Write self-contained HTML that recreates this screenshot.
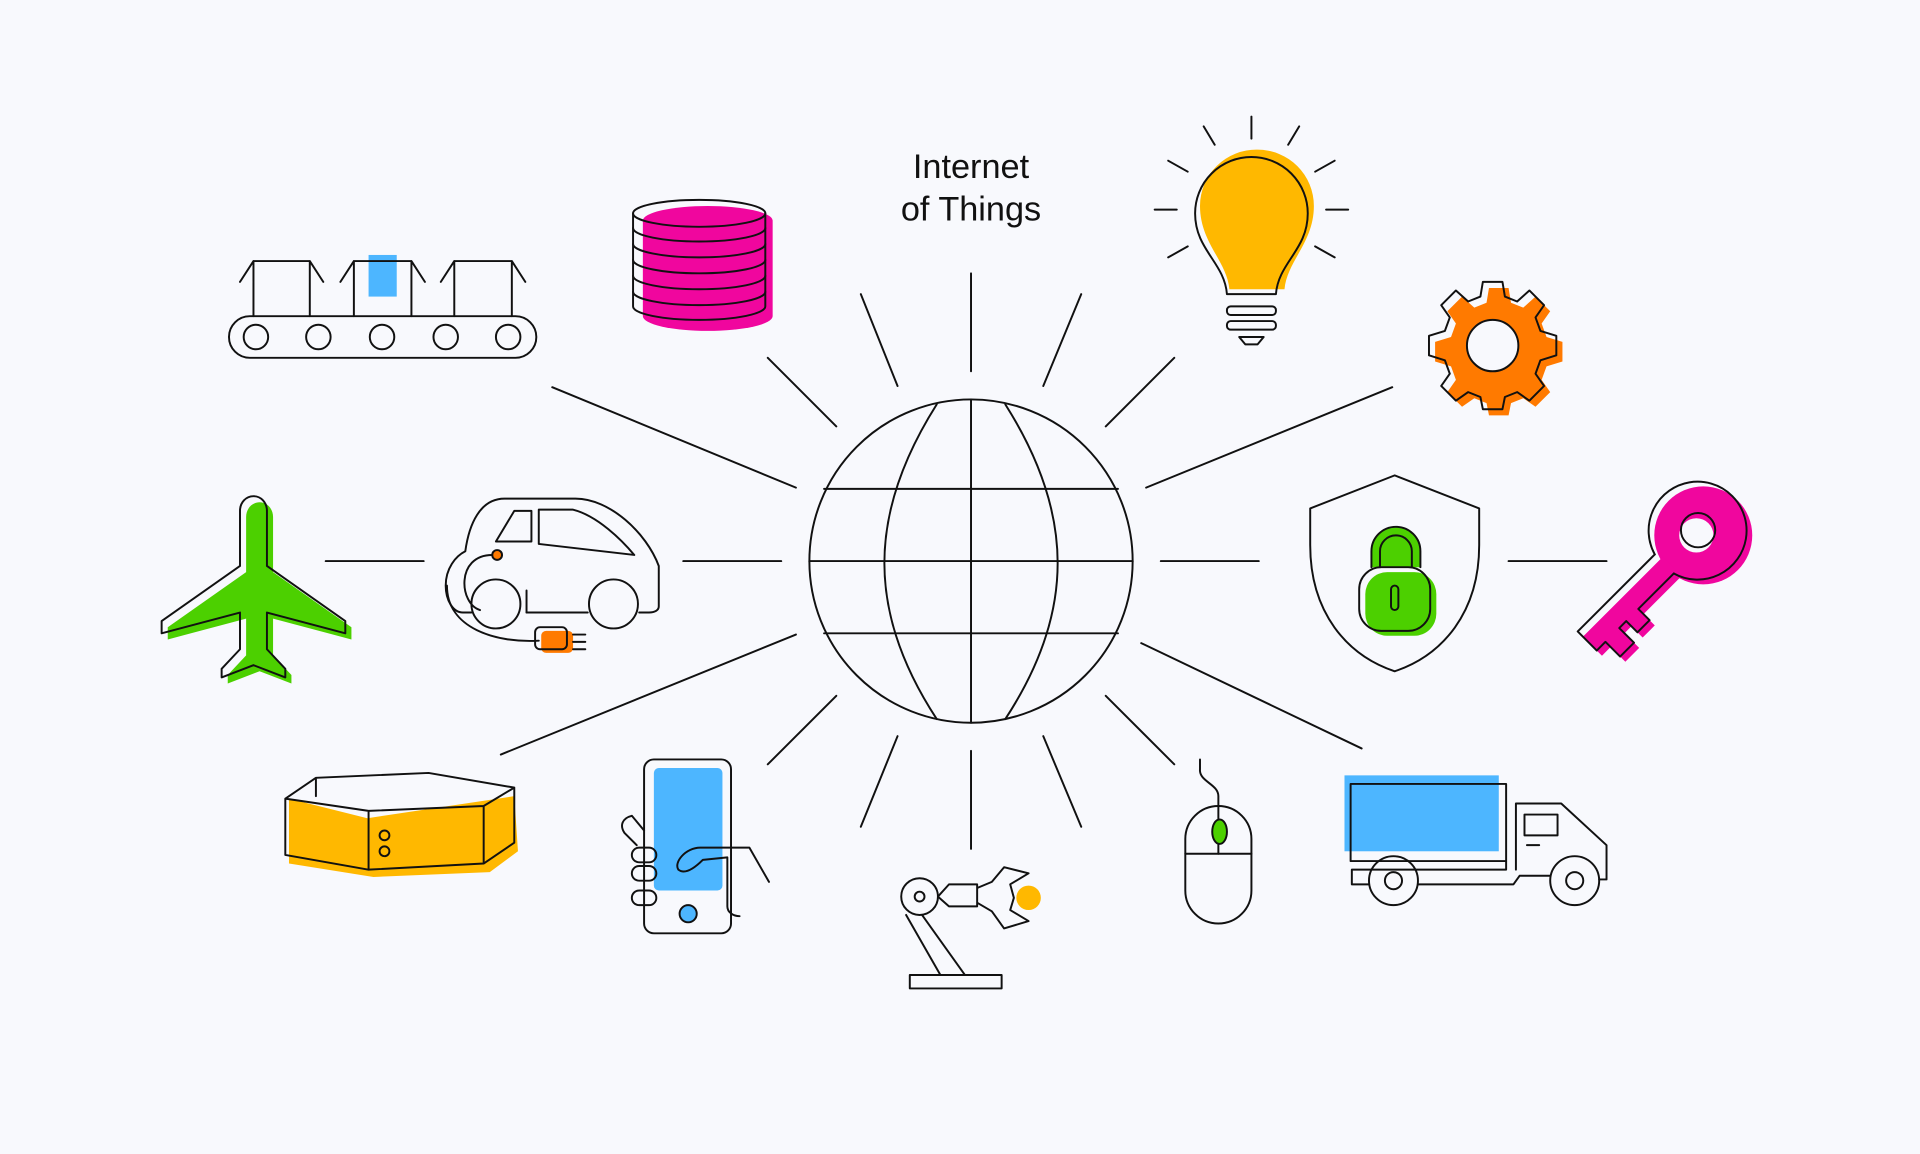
<!DOCTYPE html>
<html><head><meta charset="utf-8"><style>
html,body{margin:0;padding:0;background:#f8f9fd;}
svg{display:block;}
text{font-family:"Liberation Sans",sans-serif;}
</style></head><body>
<svg width="1920" height="1154" viewBox="0 0 1568 942" xmlns="http://www.w3.org/2000/svg">
<rect width="1568" height="942" fill="#f8f9fd"/>
<g stroke="#111" stroke-width="1.6" fill="none" stroke-linecap="round" stroke-linejoin="round">
<line x1="793" y1="223" x2="793" y2="303"/>
<line x1="703" y1="240" x2="733" y2="315"/>
<line x1="883" y1="240" x2="852" y2="315"/>
<line x1="627" y1="292" x2="683" y2="348"/>
<line x1="959" y1="292" x2="903" y2="348"/>
<line x1="451" y1="316" x2="650" y2="398"/>
<line x1="1137" y1="316" x2="936" y2="398"/>
<line x1="558" y1="458" x2="638" y2="458"/>
<line x1="266" y1="458" x2="346" y2="458"/>
<line x1="948" y1="458" x2="1028" y2="458"/>
<line x1="1232" y1="458" x2="1312" y2="458"/>
<line x1="650" y1="518" x2="409" y2="616"/>
<line x1="932" y1="525" x2="1112" y2="611"/>
<line x1="627" y1="624" x2="683" y2="568"/>
<line x1="959" y1="624" x2="903" y2="568"/>
<line x1="703" y1="675" x2="733" y2="601"/>
<line x1="883" y1="675" x2="852" y2="601"/>
<line x1="793" y1="613" x2="793" y2="693"/>
<circle cx="793" cy="458" r="132"/>
<line x1="793" y1="326" x2="793" y2="590"/>
<line x1="661" y1="458" x2="925" y2="458"/>
<line x1="673" y1="399" x2="913" y2="399"/>
<line x1="673" y1="517" x2="913" y2="517"/>
<path d="M765,330 C708,420 708,500 765,587"/>
<path d="M821,330 C878,420 878,500 821,587"/>

<rect x="187" y="258" width="251" height="34" rx="17"/>
<circle cx="209" cy="275" r="10"/><circle cx="260" cy="275" r="10"/><circle cx="312" cy="275" r="10"/><circle cx="364" cy="275" r="10"/><circle cx="415" cy="275" r="10"/>
<rect x="301" y="208" width="23" height="34" fill="#4db6ff" stroke="none"/>
<path d="M207,258 V213 H253 V258 M207,213 L196,230 M253,213 L264,230"/>
<path d="M289,258 V213 H336 V258 M289,213 L278,230 M336,213 L347,230"/>
<path d="M371,258 V213 H418 V258 M371,213 L360,230 M418,213 L429,230"/>

<path d="M525,180 a53,12 0 0 1 106,0 V258 a53,12 0 0 1 -106,0Z" fill="#f0069e" stroke="none"/>
<ellipse cx="571" cy="174" rx="54" ry="11"/>
<path d="M517,174 V186 a54,11 0 0 0 108,0 V174"/>
<path d="M517,186 V199 a54,11 0 0 0 108,0 V186"/>
<path d="M517,199 V212 a54,11 0 0 0 108,0 V199"/>
<path d="M517,212 V225 a54,11 0 0 0 108,0 V212"/>
<path d="M517,225 V238 a54,11 0 0 0 108,0 V225"/>
<path d="M517,238 V250 a54,11 0 0 0 108,0 V238"/>

<path d="M1027,122 a46,46 0 0 1 46,46 c0,30 -22,45 -24,68 H1004 c-2,-23 -24,-38 -24,-68 a46,46 0 0 1 47,-46z" fill="#ffb800" stroke="none"/>
<path d="M1022,128 a46,46 0 0 0 -46,46 c0,30 24,40 26,66 M1022,128 a46,46 0 0 1 46,46 c0,30 -24,40 -26,66 M1002,240 H1042"/>
<rect x="1002" y="250" width="40" height="7" rx="3"/><rect x="1002" y="262" width="40" height="7" rx="3"/>
<path d="M1012,275 H1032 L1027,281 H1017Z"/>
<line x1="1022" y1="95" x2="1022" y2="113"/><line x1="983" y1="103" x2="992" y2="118"/><line x1="1061" y1="103" x2="1052" y2="118"/>
<line x1="954" y1="131" x2="970" y2="140"/><line x1="1090" y1="131" x2="1074" y2="140"/>
<line x1="943" y1="171" x2="961" y2="171"/><line x1="1083" y1="171" x2="1101" y2="171"/>
<line x1="954" y1="210" x2="970" y2="201"/><line x1="1090" y1="210" x2="1074" y2="201"/>

<g transform="translate(1224,287)">
<path d="M-8,-52 H8 L10,-40 L20,-36 L30,-45 L42,-33 L35,-23 L39,-12 L52,-8 V8 L39,12 L35,23 L42,33 L30,45 L20,38 L10,42 L8,52 H-8 L-10,42 L-20,38 L-30,45 L-42,33 L-35,23 L-39,12 L-52,8 V-8 L-39,-12 L-35,-23 L-42,-33 L-30,-45 L-20,-36 L-10,-40Z" fill="#ff7a00" stroke="none"/>
<circle cx="-5" cy="-5" r="21" fill="#f8f9fd" stroke="#111"/>
<path transform="translate(-5,-5)" d="M-8,-52 H8 L10,-40 L20,-36 L30,-45 L42,-33 L35,-23 L39,-12 L52,-8 V8 L39,12 L35,23 L42,33 L30,45 L20,38 L10,42 L8,52 H-8 L-10,42 L-20,38 L-30,45 L-42,33 L-35,23 L-39,12 L-52,8 V-8 L-39,-12 L-35,-23 L-42,-33 L-30,-45 L-20,-36 L-10,-40Z"/>
</g>

<path transform="translate(5,5)" d="M207,405 c-6,0 -11,5 -11,12 L196,462 L132,507 L132,517 L196,500 L196,530 L181,546 L181,553 L207,543 L233,553 L233,546 L218,530 L218,500 L282,517 L282,507 L218,462 L218,417 c0,-7 -5,-12 -11,-12z" fill="#4cd000" stroke="none"/>
<path d="M207,405 c-6,0 -11,5 -11,12 L196,462 L132,507 L132,517 L196,500 L196,530 L181,546 L181,553 L207,543 L233,553 L233,546 L218,530 L218,500 L282,517 L282,507 L218,462 L218,417 c0,-7 -5,-12 -11,-12z"/>

<rect x="442" y="515" width="26" height="18" rx="4" fill="#ff7a00" stroke="none"/>
<path d="M385,500 H378 c-8,0 -14,-10 -14,-22 c0,-14 8,-24 16,-28 c3,-22 12,-43 32,-43 H470 c28,0 58,28 68,55 V495 c0,3 -3,5 -8,5 H522 M480,500 H430"/>
<circle cx="405" cy="493" r="20"/><circle cx="501" cy="493" r="20"/>
<path d="M405,442 L420,417 H434 V442Z M440,416 H468 c20,5 40,25 50,37 L440,444Z"/>
<circle cx="406" cy="453" r="4" fill="#ff7a00"/>
<path d="M402,453 c-30,0 -27,40 -10,45 M430,500 V482 M365,478 c0,35 40,47 75,45 M468,518 H478 M468,524 H478 M468,530 H478"/>
<rect x="437" y="512" width="26" height="18" rx="4"/>

<path d="M1139,388 L1070,415 L1070,445 c0,55 30,90 69,103 c39,-13 69,-48 69,-103 L1208,415z"/>
<rect x="1115" y="467" width="58" height="52" rx="18" fill="#4cd000" stroke="none"/>
<path d="M1120,463 V450 a20,20 0 0 1 40,0 V463 M1127,463 V450 a13,13 0 0 1 26,0 V463" fill="#4cd000"/>
<rect x="1110" y="463" width="58" height="52" rx="18"/>
<rect x="1136" y="478" width="6" height="20" rx="3"/>

<!-- key -->
<g transform="translate(1391,437) rotate(45)">
<g fill="#f0069e" stroke="none">
<circle cx="0" cy="0" r="40"/>
<path d="M-11,36 V128 H11 V118 H28 V102 H11 V94 H24 V80 H11 V36Z"/>
</g>
<circle cx="-4" cy="4" r="14" fill="#f8f9fd" stroke="none"/>
<g transform="translate(-6,0)">
<path d="M-11,39 A40,40 0 1 1 11,39"/>
<path d="M-11,39 V128 H11 V118 H28 V102 H11 V94 H24 V80 H11 V39"/>
<circle cx="0" cy="0" r="14"/>
</g>
</g>

<path d="M236,652 L300,668 L420,650 L423,695 L400,712 L305,716 L236,705Z" fill="#ffb800" stroke="none"/>
<path d="M233,652 L258,635 L350,631 L420,643 L395,658 L301,662Z M233,652 V698 L301,710 L395,705 L420,688 V643 M301,662 V710 M395,658 V705 M258,635 V650"/>
<circle cx="314" cy="682" r="4"/><circle cx="314" cy="695" r="4"/>

<rect x="534" y="627" width="56" height="100" rx="4" fill="#4db6ff" stroke="none"/>
<rect x="526" y="620" width="71" height="142" rx="8"/>
<circle cx="562" cy="746" r="7" fill="#4db6ff"/>
<path d="M597,692 H572 c-12,0 -22,12 -18,18 c5,4 12,0 20,-8 L594,700 V740 c0,5 5,8 10,8 M597,692 L612,692 L628,720 M526,678 L516,666 c-8,2 -10,8 -6,14 L520,690"/>
<rect x="516" y="692" width="20" height="12" rx="6"/><rect x="516" y="707" width="20" height="12" rx="6"/><rect x="516" y="727" width="20" height="12" rx="6"/>

<rect x="743" y="796" width="75" height="11"/>
<circle cx="751" cy="732" r="15"/><circle cx="751" cy="732" r="4"/>
<path d="M740,747 L768,796 M753,747 L788,796 M766,732 L775,722 H798 V740 H775 L766,732 M798,725 L810,720 L820,708 L840,713 L825,722 L828,733 M798,737 L810,744 L820,758 L840,752 L825,743 L828,733"/>
<circle cx="840" cy="733" r="10" fill="#ffb800" stroke="none"/>

<rect x="968" y="658" width="54" height="96" rx="27"/>
<line x1="968" y1="697" x2="1022" y2="697"/><line x1="995" y1="658" x2="995" y2="697"/>
<ellipse cx="996" cy="679" rx="6" ry="10" fill="#4cd000"/>
<path d="M995,658 V650 c0,-10 -16,-12 -15,-22 L980,620"/>

<rect x="1098" y="633" width="126" height="62" fill="#4db6ff" stroke="none"/>
<rect x="1103" y="640" width="127" height="63"/>
<path d="M1230,703 V710 H1104 V722 H1118 M1158,722 H1236 L1241,715 H1266 M1306,718 H1312 V690 L1275,656 H1238 V710 M1245,665 H1272 V682 H1245Z M1247,690 H1257"/>
<circle cx="1138" cy="719" r="20"/><circle cx="1138" cy="719" r="7"/>
<circle cx="1286" cy="719" r="20"/><circle cx="1286" cy="719" r="7"/>
</g>
<text x="793" y="145" font-size="28" text-anchor="middle" fill="#111">Internet</text>
<text x="793" y="180" font-size="28" text-anchor="middle" fill="#111">of Things</text>
</svg>
</body></html>
